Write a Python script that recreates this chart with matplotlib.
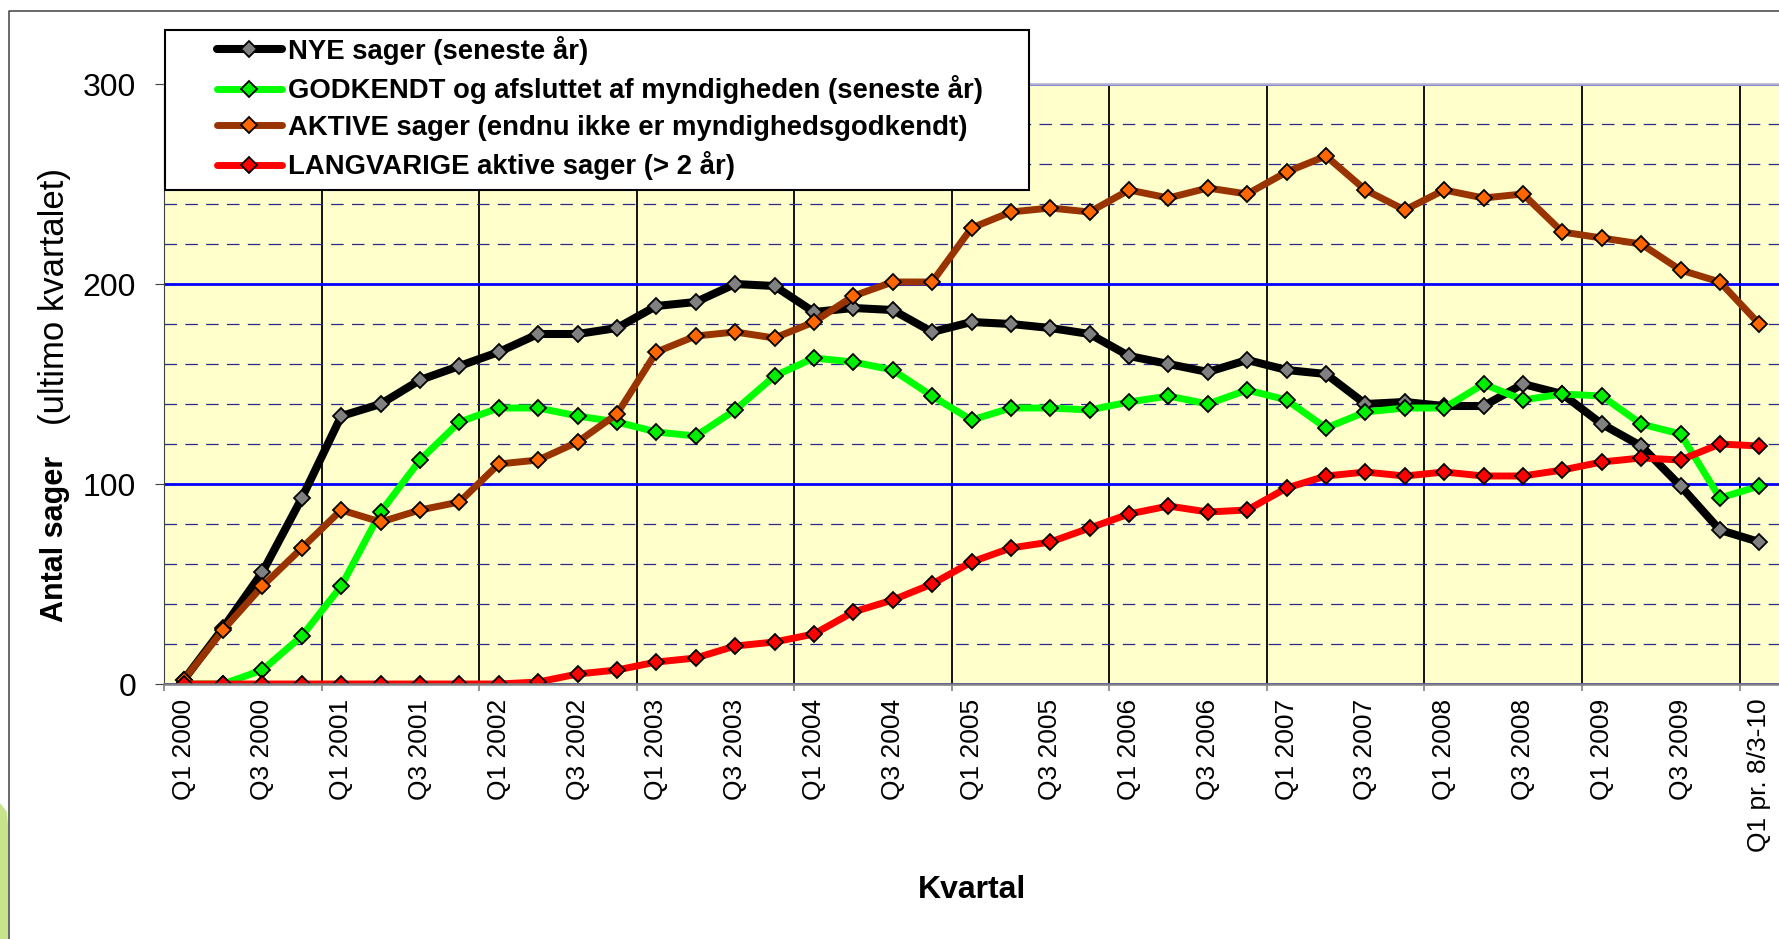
import numpy as np
import matplotlib
matplotlib.use("Agg")
import matplotlib.pyplot as plt
from matplotlib.patches import Rectangle, Polygon
from matplotlib.lines import Line2D
from matplotlib.ticker import MultipleLocator, FixedLocator

plt.rcParams["font.family"] = ["Liberation Sans", "DejaVu Sans"]
plt.rcParams["lines.scale_dashes"] = False

# quarters Q1 2000 .. Q4 2009 plus the partial first quarter of 2010
quarters = [f"Q{q} {y}" for y in range(2000, 2010) for q in range(1, 5)] + ["Q1 pr. 8/3-10"]

nye = [2, 28, 56, 93, 134, 140, 152, 159, 166, 175, 175, 178, 189, 191, 200, 199,
       186, 188, 187, 176, 181, 180, 178, 175, 164, 160, 156, 162, 157, 155, 140,
       141, 139, 139, 150, 145, 130, 119, 99, 77, 71]
godkendt = [0, 0, 7, 24, 49, 86, 112, 131, 138, 138, 134, 131, 126, 124, 137, 154,
            163, 161, 157, 144, 132, 138, 138, 137, 141, 144, 140, 147, 142, 128, 136,
            138, 138, 150, 142, 145, 144, 130, 125, 93, 99]
aktive = [2, 27, 49, 68, 87, 81, 87, 91, 110, 112, 121, 135, 166, 174, 176, 173,
          181, 194, 201, 201, 228, 236, 238, 236, 247, 243, 248, 245, 256, 264, 247,
          237, 247, 243, 245, 226, 223, 220, 207, 201, 180]
langvarige = [0, 0, 0, 0, 0, 0, 0, 0, 0, 1, 5, 7, 11, 13, 19, 21, 25, 36, 42, 50,
              61, 68, 71, 78, 85, 89, 86, 87, 98, 104, 106, 104, 106, 104, 104, 107,
              111, 113, 112, 120, 119]

labels = ["NYE sager (seneste år)",
          "GODKENDT og afsluttet af myndigheden (seneste år)",
          "AKTIVE sager (endnu ikke er myndighedsgodkendt)",
          "LANGVARIGE aktive sager (> 2 år)"]
line_colors = ["#000000", "#00ff00", "#993300", "#ff0000"]
marker_colors = ["#808080", "#00ee00", "#ff6600", "#ff0000"]
line_widths = [5.8, 5.0, 5.0, 5.0]

W, H = 1779, 939
fig = plt.figure(figsize=(W / 100, H / 100), dpi=100)

# axes box in pixels: left 164, right 1779, top 84 (=300), bottom 684 (=0)
ax = fig.add_axes([164 / W, 1 - 684 / H, (1779 - 164) / W, (684 - 84) / H])
ax.set_facecolor("#ffffcc")

x = np.arange(len(quarters))
handles = []
for vals, lab, lc, mc, lw in zip([nye, godkendt, aktive, langvarige], labels,
                                 line_colors, marker_colors, line_widths):
    h, = ax.plot(x, vals, color=lc, lw=lw, marker="D", ms=8, mfc=mc, mec="black",
                 mew=1.3, solid_joinstyle="round", solid_capstyle="round", label=lab)
    handles.append(h)

ax.set_xlim(-0.5, len(quarters) - 0.5)
ax.set_ylim(0, 300)

# y axis
ax.set_yticks([0, 100, 200, 300])
ax.yaxis.set_minor_locator(MultipleLocator(20))
ax.tick_params(axis="y", which="major", length=6.5, width=0.8, color="#404040",
               pad=13.5, labelsize=23)
ax.tick_params(axis="y", which="minor", length=0)
ax.grid(which="major", axis="y", color="#0000ff", lw=2)
ax.grid(which="minor", axis="y", color="#2a2a8a", lw=0.9, ls=(0, (9, 6)))

# x axis: labels every second quarter, ticks + vertical lines at year boundaries
ax.set_xticks(x[::2])
ax.set_xticklabels(quarters[::2], rotation=90, fontsize=19)
ax.xaxis.set_minor_locator(FixedLocator(np.arange(-0.5, len(quarters), 4)))
ax.tick_params(axis="x", which="major", length=0, pad=10.5)
ax.tick_params(axis="x", which="minor", length=5, width=1.2, color="#808080")
ax.grid(which="minor", axis="x", color="black", lw=1.3)
ax.set_axisbelow(True)

ax.spines["top"].set_color("#b0b0cc")
ax.spines["top"].set_linewidth(1.8)
ax.spines["bottom"].set_color("#808080")
ax.spines["bottom"].set_linewidth(1.8)
ax.spines["left"].set_color("#404040")
ax.spines["left"].set_linewidth(0.8)
ax.spines["right"].set_color("#c0c0c0")

# axis titles
fig.text(63 / W, 1 - 622 / H, "Antal sager", rotation=90, rotation_mode="anchor",
         ha="left", va="baseline", fontsize=22, fontweight="bold")
fig.text(64 / W, 1 - 425 / H, "(ultimo kvartalet)", rotation=90, rotation_mode="anchor",
         ha="left", va="baseline", fontsize=25)
fig.text(972 / W, 1 - 890 / H, "Kvartal", ha="center", va="center", fontsize=23,
         fontweight="bold")

# legend with its own frame
fig.add_artist(Rectangle((165 / W, 1 - 190 / H), (1029 - 165) / W, 160 / H,
                         transform=fig.transFigure, facecolor="white",
                         edgecolor="black", lw=1.5, zorder=3))
leg = fig.legend(handles=handles, loc="upper left", bbox_to_anchor=(217 / W, 1 - 36 / H),
                 frameon=False, borderpad=0, borderaxespad=0, handlelength=2.35,
                 handletextpad=0.22, labelspacing=0.38, numpoints=1,
                 prop={"size": 19.8, "weight": "bold"})
leg.set_zorder(5)

# slide border and decoration
fig.add_artist(Line2D([9 / W, 9 / W, 1], [0, 1 - 11 / H, 1 - 11 / H],
                      transform=fig.transFigure, color="#404040", lw=1.1))
fig.add_artist(Polygon([(0, 1 - 803 / H), (7 / W, 1 - 812 / H), (8 / W, 1 - 825 / H),
                        (8 / W, 0), (0, 0)], closed=True, transform=fig.transFigure,
                       facecolor="#c8e48a", edgecolor="none"))

fig.savefig("out.png", dpi=100)
